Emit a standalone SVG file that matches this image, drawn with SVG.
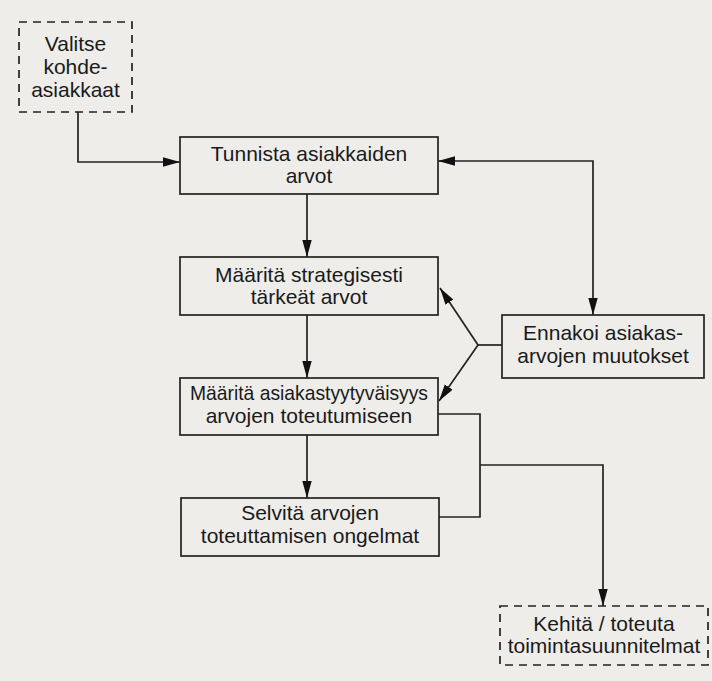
<svg xmlns="http://www.w3.org/2000/svg" width="712" height="681" viewBox="0 0 712 681">
<defs>
<style>
.box{fill:none;stroke:#222;stroke-width:1.7}
.dash{fill:none;stroke:#222;stroke-width:1.7;stroke-dasharray:8 6}
.ln{fill:none;stroke:#222;stroke-width:1.7}
.t{font-family:"Liberation Sans",Arial,sans-serif;font-size:21px;fill:#1a1a1a;text-anchor:middle}
</style>
<marker id="ah" viewBox="0 0 17 10" refX="17" refY="5" markerWidth="17" markerHeight="10" markerUnits="userSpaceOnUse" orient="auto-start-reverse">
<path d="M0,0.3 L17,5 L0,9.7 Z" fill="#111"/>
</marker>
</defs>
<rect width="712" height="681" fill="#eeedea"/>
<g id="connectors">
<path class="ln" d="M78,112 V162 H180" marker-end="url(#ah)"/>
<path class="ln" d="M307,194 V257" marker-end="url(#ah)"/>
<path class="ln" d="M307,315 V378" marker-end="url(#ah)"/>
<path class="ln" d="M307,435 V498" marker-end="url(#ah)"/>
<path class="ln" d="M438,161 H593 V315" marker-start="url(#ah)" marker-end="url(#ah)"/>
<path class="ln" d="M502,345 H478"/>
<path class="ln" d="M478,345 L440,288" marker-end="url(#ah)"/>
<path class="ln" d="M478,345 L439,401" marker-end="url(#ah)"/>
<path class="ln" d="M438,414 H480 V517 H439"/>
<path class="ln" d="M480,465 H603 V606" marker-end="url(#ah)"/>
</g>
<g id="valitse">
<rect class="dash" x="19" y="22" width="113" height="90"/>
<text class="t"><tspan x="75.5" y="51">Valitse</tspan><tspan x="75.5" y="74">kohde-</tspan><tspan x="75.5" y="97">asiakkaat</tspan></text>
</g>
<g id="tunnista">
<rect class="box" x="180" y="137" width="258" height="57"/>
<text class="t"><tspan x="309" y="161">Tunnista asiakkaiden</tspan><tspan x="309" y="183">arvot</tspan></text>
</g>
<g id="strategisesti">
<rect class="box" x="180" y="257" width="258" height="58"/>
<text class="t"><tspan x="309" y="282">Määritä strategisesti</tspan><tspan x="309" y="304">tärkeät arvot</tspan></text>
</g>
<g id="tyytyvaisyys">
<rect class="box" x="180" y="378" width="258" height="57"/>
<text class="t" x="309" y="400" textLength="238" lengthAdjust="spacingAndGlyphs">Määritä asiakastyytyväisyys</text>
<text class="t" x="309" y="423">arvojen toteutumiseen</text>
</g>
<g id="selvita">
<rect class="box" x="181" y="498" width="258" height="58"/>
<text class="t"><tspan x="310" y="520">Selvitä arvojen</tspan><tspan x="310" y="543">toteuttamisen ongelmat</tspan></text>
</g>
<g id="ennakoi">
<rect class="box" x="502" y="315" width="202" height="63"/>
<text class="t"><tspan x="603" y="340">Ennakoi asiakas-</tspan><tspan x="603" y="363">arvojen muutokset</tspan></text>
</g>
<g id="kehita">
<rect class="dash" x="500" y="606" width="208" height="59"/>
<text class="t"><tspan x="604" y="631">Kehitä / toteuta</tspan><tspan x="604" y="653">toimintasuunnitelmat</tspan></text>
</g>
</svg>
